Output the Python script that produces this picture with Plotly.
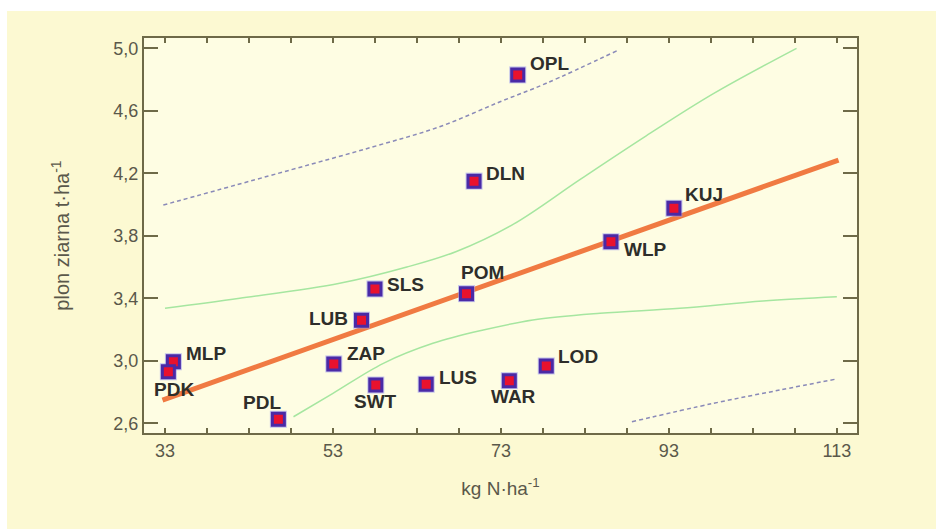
import plotly.graph_objects as go

# ---- data ----
regions = ["OPL", "DLN", "POM", "SLS", "LUB", "ZAP", "SWT", "LUS", "WAR", "LOD",
           "WLP", "KUJ", "MLP", "PDK", "PDL"]
n_dose = [75.0, 69.8, 68.9, 58.0, 56.4, 53.1, 58.1, 64.1, 74.0, 78.4,
          86.1, 93.6, 34.0, 33.4, 46.5]
grain_yield = [4.83, 4.15, 3.43, 3.46, 3.26, 2.98, 2.845, 2.85, 2.873, 2.967,
               3.762, 3.976, 2.994, 2.93, 2.626]

fit_x = [32.7, 113.2]
fit_y = [2.749, 4.285]

conf_up_x = [33.0, 41.9, 53.8, 61.8, 67.7, 74.5, 82.4, 90.3, 98.3, 108.2]
conf_up_y = [3.336, 3.40, 3.496, 3.60, 3.70, 3.875, 4.16, 4.44, 4.71, 5.0]
conf_lo_x = [48.3, 53.0, 59.0, 64.9, 70.9, 76.8, 84.8, 94.3, 104.2, 113.0]
conf_lo_y = [2.642, 2.792, 2.984, 3.112, 3.197, 3.261, 3.304, 3.336, 3.383, 3.41]

pred_up_x = [32.8, 47.9, 57.8, 65.7, 72.9, 78.4, 87.0]
pred_up_y = [3.997, 4.221, 4.37, 4.498, 4.658, 4.776, 4.989]
pred_lo_x = [88.6, 98.3, 106.2, 112.8]
pred_lo_y = [2.61, 2.728, 2.813, 2.882]

x_tick_vals = [33, 53, 73, 93, 113]
x_tick_text = ["33", "53", "73", "93", "113"]
y_tick_vals = [2.6, 3.0, 3.4, 3.8, 4.2, 4.6, 5.0]
y_tick_text = ["2,6", "3,0", "3,4", "3,8", "4,2", "4,6", "5,0"]

# label offsets in pixels (style)
label_shift = {
    "OPL": (10, 11, "left"), "DLN": (10, 8, "left"), "POM": (-7, 21, "left"),
    "SLS": (10, 4, "left"), "LUB": (-12, 2, "right"), "ZAP": (11, 10, "left"),
    "SWT": (0, -16, "center"), "LUS": (11, 7, "left"), "WAR": (4, -16, "center"),
    "LOD": (10, 9, "left"), "WLP": (11, -8, "left"), "KUJ": (9, 14, "left"),
    "MLP": (11, 8, "left"), "PDK": (6, -18, "center"), "PDL": (-16, 17, "center"),
}

FONT = "Liberation Sans, Arial, sans-serif"

fig = go.Figure()

fig.add_trace(go.Scatter(x=pred_up_x, y=pred_up_y, mode="lines", line_shape="spline",
                         line=dict(color="#8a8ab8", width=1.5, dash="4px,3px"),
                         hoverinfo="skip"))
fig.add_trace(go.Scatter(x=pred_lo_x, y=pred_lo_y, mode="lines", line_shape="spline",
                         line=dict(color="#8a8ab8", width=1.5, dash="4px,3px"),
                         hoverinfo="skip"))
fig.add_trace(go.Scatter(x=conf_up_x, y=conf_up_y, mode="lines", line_shape="spline",
                         line=dict(color="#a6e6a0", width=1.5), hoverinfo="skip"))
fig.add_trace(go.Scatter(x=conf_lo_x, y=conf_lo_y, mode="lines", line_shape="spline",
                         line=dict(color="#a6e6a0", width=1.5), hoverinfo="skip"))
fig.add_trace(go.Scatter(x=fit_x, y=fit_y, mode="lines",
                         line=dict(color="#f07a42", width=5), hoverinfo="skip"))

# glow under markers
fig.add_trace(go.Scatter(x=n_dose, y=grain_yield, mode="markers",
                         marker=dict(symbol="square", size=17, color="rgba(150,150,240,0.55)",
                                     line=dict(width=0)), hoverinfo="skip"))
fig.add_trace(go.Scatter(x=n_dose, y=grain_yield, mode="markers", text=regions,
                         marker=dict(symbol="square", size=12, color="#e8122e",
                                     line=dict(color="#4a2aa6", width=3))))

for name, xv, yv in zip(regions, n_dose, grain_yield):
    dx, dy, anc = label_shift[name]
    fig.add_annotation(x=xv, y=yv, text="<b>" + name + "</b>", showarrow=False,
                       xshift=dx, yshift=dy, xanchor=anc, yanchor="middle",
                       font=dict(family=FONT, size=19, color="#2e2e2a"))

axis_col = "#6e6a48"
fig.update_xaxes(range=[30.5, 115.4], tickvals=x_tick_vals, ticktext=x_tick_text,
                 ticks="inside", ticklen=5, tickwidth=1.5, tickcolor=axis_col,
                 minor=dict(tick0=33, dtick=5, ticks="inside", ticklen=5, tickwidth=1.5,
                            tickcolor=axis_col, showgrid=False),
                 showline=True, linecolor=axis_col, linewidth=2, mirror="ticks",
                 showgrid=False, zeroline=False,
                 tickfont=dict(family=FONT, size=18, color="#5a584a"),
                 title=dict(text="kg N·ha<sup>-1</sup>", standoff=22,
                            font=dict(family=FONT, size=19, color="#5a584a")))
fig.update_yaxes(range=[2.538, 5.066], tickvals=y_tick_vals, ticktext=y_tick_text,
                 ticks="inside", ticklen=14, tickwidth=1.5, tickcolor=axis_col,
                 showline=True, linecolor=axis_col, linewidth=2, mirror="ticks",
                 showgrid=False, zeroline=False,
                 tickfont=dict(family=FONT, size=18, color="#5a584a"),
                 title=dict(text="plon ziarna t·ha<sup>-1</sup>", standoff=38,
                            font=dict(family=FONT, size=20, color="#5a584a")))

fig.update_layout(
    width=936, height=529,
    margin=dict(l=144, r=79, t=38, b=96),
    paper_bgcolor="#fcf9d2",
    plot_bgcolor="#fefde3",
    showlegend=False,
    shapes=[
        dict(type="rect", xref="paper", yref="paper", x0=-0.25, x1=1.2,
             y0=(433 - 11) / 395, y1=1.2, fillcolor="white", line=dict(width=0), layer="below"),
        dict(type="rect", xref="paper", yref="paper", x0=-0.25, x1=(7 - 144) / 713,
             y0=-0.3, y1=1.2, fillcolor="white", line=dict(width=0), layer="below"),
    ],
)

fig.write_html("out.html")
